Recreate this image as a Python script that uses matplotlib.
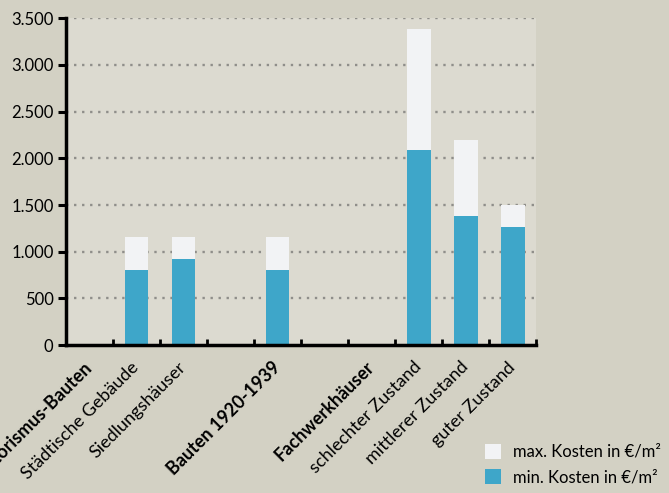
import matplotlib.pyplot as plt
from matplotlib.patches import Patch
import numpy as np

categories = ['Historismus-Bauten', 'Städtische Gebäude', 'Siedlungshäuser', '',
              'Bauten 1920-1939', '', 'Fachwerkhäuser', 'schlechter Zustand',
              'mittlerer Zustand', 'guter Zustand']
bold_labels = ['Historismus-Bauten', 'Bauten 1920-1939', 'Fachwerkhäuser']
min_cost = [0, 800, 920, 0, 800, 0, 0, 2085, 1380, 1260]
max_cost = [0, 1155, 1155, 0, 1155, 0, 0, 3380, 2200, 1505]
yticks = [0, 500, 1000, 1500, 2000, 2500, 3000, 3500]

outer_bg = '#d3d1c4'
plot_bg = '#dcdad0'
blue = '#3ea6c9'
white = '#f2f3f5'

plt.rcParams['font.family'] = ['Lato', 'DejaVu Sans']

fig = plt.figure(figsize=(6.69, 4.93), dpi=100, facecolor=outer_bg)
ax = fig.add_axes([0.0987, 0.300, 0.703, 0.663])
ax.set_facecolor(plot_bg)

x = np.arange(len(categories))
mins = np.array(min_cost)
maxs = np.array(max_cost)
ax.bar(x, mins, width=0.5, color=blue, zorder=3)
ax.bar(x, maxs - mins, bottom=mins, width=0.5, color=white, zorder=3)

ax.set_xlim(-0.5, len(categories) - 0.5)
ax.set_ylim(0, 3500)
ax.set_yticks(yticks)
ax.set_yticklabels([f'{v:,}'.replace(',', '.') for v in yticks], fontsize=12)
for v in yticks[1:]:
    ax.axhline(v, color='#8f8e8a', linestyle=(0, (1, 2.4)), linewidth=1.7, zorder=1)

ax.set_xticks(np.arange(len(categories) + 1) - 0.5, minor=False)
ax.set_xticklabels([])
ax.set_xticks(x, minor=True)
ax.set_xticklabels(categories, minor=True, rotation=45, ha='right', va='center',
                   rotation_mode='anchor', fontsize=13)
for lbl in ax.get_xticklabels(minor=True):
    if lbl.get_text() in bold_labels:
        lbl.set_fontweight('bold')
ax.tick_params(axis='x', which='major', direction='in', length=4, width=2, color='black')
ax.tick_params(axis='x', which='minor', length=0, pad=14)
ax.tick_params(axis='y', direction='out', length=6, width=2.2, color='black', pad=3)

for s in ['top', 'right']:
    ax.spines[s].set_visible(False)
for s in ['left', 'bottom']:
    ax.spines[s].set_linewidth(2.5)
    ax.spines[s].set_color('black')
    ax.spines[s].set_zorder(5)

handles = [Patch(facecolor=white, label='max. Kosten in €/m²'),
           Patch(facecolor=blue, label='min. Kosten in €/m²')]
fig.legend(handles=handles, loc='upper left', bbox_to_anchor=(478 / 669, 1 - 437 / 493),
           frameon=False, fontsize=12, handlelength=1.0, handleheight=1.0,
           handletextpad=0.7, labelspacing=0.55, borderaxespad=0)

fig.savefig('out.png', dpi=100, facecolor=outer_bg)
